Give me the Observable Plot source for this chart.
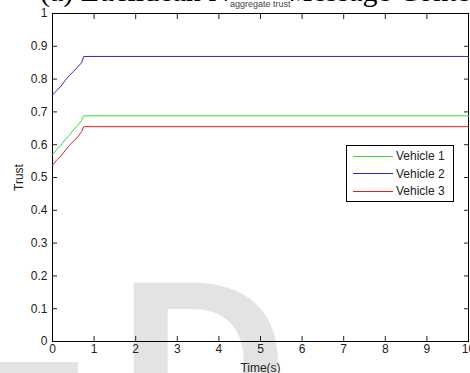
<!DOCTYPE html>
<html>
<head>
<meta charset="utf-8">
<script src="https://cdn.jsdelivr.net/npm/d3@7"></script>
<script src="https://cdn.jsdelivr.net/npm/@observablehq/plot@0.6"></script>
<style>
  html, body { margin: 0; padding: 0; background: #fff; }
  #wrap { position: relative; width: 470px; height: 373px; overflow: hidden; background: #fff; }
  #wm { position: absolute; left: 0; top: 0; width: 470px; height: 373px; }
  #title { position: absolute; left: 40px; top: -24px; white-space: nowrap;
           font-family: "Liberation Serif", "Times New Roman", serif; font-size: 30px; line-height: 30px; color: #000; }
  #sub { position: absolute; left: 230px; top: -1px; white-space: nowrap;
         font-family: "Liberation Sans", Arial, sans-serif; font-size: 9px; line-height: 10px; color: #444; background: #fff; }
  #chart { position: absolute; left: 0; top: 0; }
  #legend { position: absolute; left: 346px; top: 145px; width: 108px; height: 57px;
            border: 1px solid #000; background: #fff; box-sizing: border-box;
            font-family: "Liberation Sans", Arial, sans-serif; font-size: 12px; color: #222; }
  .row { position: absolute; left: 6px; height: 14px; display: flex; align-items: center; }
  .sw { width: 40px; height: 0; border-top: 1px solid; margin-right: 3px; }
</style>
</head>
<body>
<div id="wrap">
  <svg id="wm" width="470" height="373">
    <rect x="0" y="362" width="78" height="11" fill="#e3e3e3"></rect>
    <text x="118" y="445" font-family="Liberation Sans, Arial, sans-serif" font-weight="bold" font-size="235" fill="#e3e3e3">D</text>
  </svg>
  <div id="title">(a) Euclidean Norm Message Content Trust</div>
  <div id="sub">aggregate trust</div>
  <div id="chart"></div>
  <div id="legend"></div>
</div>
<script>
// Data
const seriesNames = ["Vehicle 1", "Vehicle 2", "Vehicle 3"];
const seriesColors = ["#2fe02f", "#2a2ac4", "#dd2424"];
const time = [0, 0.1, 0.2, 0.3, 0.4, 0.5, 0.6, 0.7, 0.75, 10];
const vehicle1 = [0.569, 0.585, 0.598, 0.615, 0.628, 0.645, 0.658, 0.674, 0.688, 0.688];
const vehicle2 = [0.752, 0.765, 0.778, 0.795, 0.810, 0.823, 0.836, 0.850, 0.869, 0.869];
const vehicle3 = [0.537, 0.553, 0.565, 0.581, 0.597, 0.610, 0.623, 0.640, 0.655, 0.655];
const xTicks = [0, 1, 2, 3, 4, 5, 6, 7, 8, 9, 10];
const yTicks = [0, 0.1, 0.2, 0.3, 0.4, 0.5, 0.6, 0.7, 0.8, 0.9, 1];

const allSeries = [vehicle1, vehicle2, vehicle3];
const rows = [];
allSeries.forEach((vals, si) => {
  vals.forEach((v, i) => rows.push({t: time[i], v, s: seriesNames[si]}));
});

const fontFam = "Liberation Sans, Arial, sans-serif";
const chart = Plot.plot({
  width: 470,
  height: 373,
  marginLeft: 52,
  marginRight: 2,
  marginTop: 13,
  marginBottom: 32,
  style: { background: "transparent", fontFamily: fontFam, fontSize: "12px", color: "#222", overflow: "visible" },
  x: { domain: [0, 10] },
  y: { domain: [0, 1] },
  color: { domain: seriesNames, range: seriesColors },
  marks: [
    Plot.axisX({ anchor: "bottom", ticks: xTicks, tickSize: -5, tickPadding: 8, tickFormat: d => String(d),
                 label: "Time(s)", labelAnchor: "center", labelArrow: "none", labelOffset: 30, fontSize: 12 }),
    Plot.axisX({ anchor: "top", ticks: xTicks, tickSize: -5, tickFormat: () => "", label: null }),
    Plot.axisY({ anchor: "left", ticks: yTicks, tickSize: -5, tickPadding: 10, tickFormat: d => String(d),
                 label: "Trust", labelAnchor: "center", labelArrow: "none", labelOffset: 38, fontSize: 12 }),
    Plot.axisY({ anchor: "right", ticks: yTicks, tickSize: -5, tickFormat: () => "", label: null }),
    Plot.frame({ stroke: "#000", strokeWidth: 1 }),
    Plot.line(rows, { x: "t", y: "v", z: "s", stroke: "s", strokeWidth: 1 })
  ]
});
document.getElementById("chart").appendChild(chart);

const legend = document.getElementById("legend");
seriesNames.forEach((name, i) => {
  const r = document.createElement("div");
  r.className = "row";
  r.style.top = (3 + i * 17.5) + "px";
  const sw = document.createElement("div");
  sw.className = "sw";
  sw.style.borderTopColor = seriesColors[i];
  r.appendChild(sw);
  const t = document.createElement("span");
  t.textContent = name;
  r.appendChild(t);
  legend.appendChild(r);
});
</script>
</body>
</html>
